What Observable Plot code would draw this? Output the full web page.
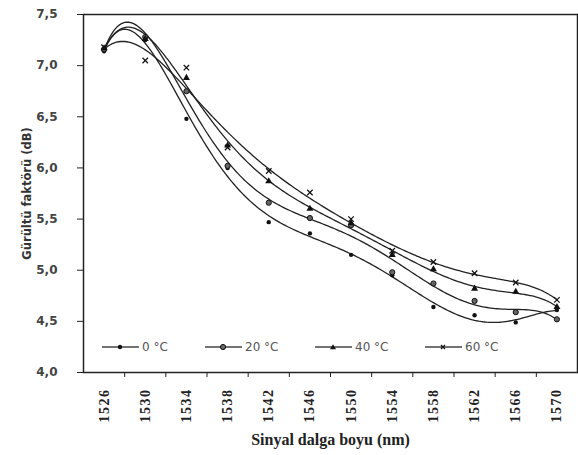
<!DOCTYPE html>
<html><head><meta charset="utf-8">
<script src="https://cdn.jsdelivr.net/npm/d3@7"></script>
<script src="https://cdn.jsdelivr.net/npm/@observablehq/plot@0.6"></script>
<style>
body{margin:0;background:#fff;}
#wrap{position:relative;width:578px;height:455px;}
g[aria-label="y-axis tick label"] text{font-family:"DejaVu Sans",sans-serif;font-size:12px;font-weight:bold;fill:#444;}
g[aria-label="x-axis tick label"] text{font-family:"Liberation Serif",serif;font-size:14px;font-weight:bold;fill:#222;letter-spacing:1.5px;}
#legend{position:absolute;left:0;top:340px;font-family:"DejaVu Sans",sans-serif;font-size:12px;color:#555;}
.li{position:absolute;display:flex;align-items:center;white-space:nowrap;}
</style></head><body>
<div id="wrap"><div id="legend"></div></div>
<script>
const wavelengths = [1526,1530,1534,1538,1542,1546,1550,1554,1558,1562,1566,1570];
const seriesNames = ["0 °C","20 °C","40 °C","60 °C"];
const v0  = [7.14,7.25,6.48,6.00,5.47,5.36,5.15,4.95,4.64,4.56,4.49,4.61];
const v20 = [7.16,7.28,6.75,6.02,5.66,5.51,5.44,4.98,4.87,4.70,4.59,4.52];
const v40 = [7.17,7.26,6.88,6.22,5.87,5.60,5.46,5.15,5.01,4.82,4.79,4.64];
const v60 = [7.18,7.05,6.98,6.20,5.97,5.76,5.50,5.19,5.08,4.97,4.88,4.71];
const yTicks = [4.0,4.5,5.0,5.5,6.0,6.5,7.0,7.5];
const symbols = ["circle","circle","triangle","times"];

const allVals = [v0,v20,v40,v60];
const idx = wavelengths.map((w,i)=>i+1);
const points = [];
allVals.forEach((vals,s)=>vals.forEach((v,i)=>points.push({x:i+1,y:v,series:seriesNames[s]})));

// 6th-order polynomial trendline (least squares) as in the original spreadsheet
function polyfit(xs, ys, deg){
  const c = 6.5, h = 5.5, n = deg+1;
  const A = Array.from({length:n},()=>new Array(n).fill(0));
  const b = new Array(n).fill(0);
  xs.forEach((x,k)=>{
    const t=(x-c)/h; const p=[]; for(let j=0;j<n;j++) p.push(Math.pow(t,j));
    for(let i=0;i<n;i++){ b[i]+=p[i]*ys[k]; for(let j=0;j<n;j++) A[i][j]+=p[i]*p[j]; }
  });
  for(let i=0;i<n;i++){
    let m=i; for(let r=i+1;r<n;r++) if(Math.abs(A[r][i])>Math.abs(A[m][i])) m=r;
    [A[i],A[m]]=[A[m],A[i]]; [b[i],b[m]]=[b[m],b[i]];
    for(let r=i+1;r<n;r++){ const f=A[r][i]/A[i][i]; for(let j=i;j<n;j++) A[r][j]-=f*A[i][j]; b[r]-=f*b[i]; }
  }
  const co=new Array(n).fill(0);
  for(let i=n-1;i>=0;i--){ let s=b[i]; for(let j=i+1;j<n;j++) s-=A[i][j]*co[j]; co[i]=s/A[i][i]; }
  return x=>{const t=(x-c)/h; let s=0; for(let j=n-1;j>=0;j--) s=s*t+co[j]; return s;};
}
const curves = [];
allVals.forEach((vals,s)=>{
  const f = polyfit(idx, vals, 6);
  d3.range(1, 12.0001, 0.05).forEach(x=>curves.push({x, y:f(x), series:seriesNames[s]}));
});

const boundaries = d3.range(1.5, 12, 1);
const fmt = d => d.toFixed(1).replace(".", ",");

const chart = Plot.plot({
  width: 578, height: 455,
  marginLeft: 83, marginRight: 1, marginTop: 14, marginBottom: 83,
  x: {domain: [0.5, 12.5]},
  y: {domain: [4, 7.5]},
  style: {background: "white", overflow: "visible"},
  marks: [
    Plot.axisY({ticks: yTicks, tickSize: 6, tickPadding: 20, tickFormat: fmt, label: null, stroke: "#222"}),
    Plot.axisX({ticks: idx, tickSize: 0, tickPadding: 16, tickRotate: -90, tickFormat: i => String(wavelengths[i-1]), label: null}),
    Plot.axisX({ticks: boundaries, tickSize: 5, tickFormat: () => "", label: null, stroke: "#222"}),
    Plot.line(curves, {x: "x", y: "y", z: "series", stroke: "#222", strokeWidth: 1.3, curve: "linear"}),
    Plot.dot(points.filter(d=>d.series===seriesNames[0]), {x:"x", y:"y", symbol:"circle", r:2.2, fill:"#111"}),
    Plot.dot(points.filter(d=>d.series===seriesNames[1]), {x:"x", y:"y", symbol:"circle", r:2.6, fill:"#666", stroke:"#111", strokeWidth:1}),
    Plot.dot(points.filter(d=>d.series===seriesNames[2]), {x:"x", y:"y", symbol:"triangle", r:2.6, fill:"#111"}),
    Plot.dot(points.filter(d=>d.series===seriesNames[3]), {x:"x", y:"y", symbol:"times", r:2.6, stroke:"#111", strokeWidth:1.2, fill:"none"}),
    Plot.frame({stroke: "#222", strokeWidth: 1.5}),
    Plot.text(["Sinyal dalga boyu (nm)"], {frameAnchor: "bottom", textAnchor: "middle", dy: 72, fontFamily: "Liberation Serif", fontSize: 16, fontWeight: "bold", fill: "#222", letterSpacing: "1px"}),
    Plot.text(["Gürültü faktörü (dB)"], {frameAnchor: "left", textAnchor: "middle", dx: -56, rotate: -90, fontFamily: "DejaVu Sans", fontSize: 11.5, fontWeight: "bold", fill: "#333"})
  ]
});
document.getElementById("wrap").prepend(chart);

// legend
const legendX = [102, 205, 315, 425];
const lg = document.getElementById("legend");
seriesNames.forEach((name,i)=>{
  let m = "";
  if (i===0) m = '<circle cx="18" cy="7" r="2.2" fill="#111"/>';
  if (i===1) m = '<circle cx="18" cy="7" r="2.6" fill="#666" stroke="#111"/>';
  if (i===2) m = '<path d="M18,4.2L21,9.2L15,9.2Z" fill="#111"/>';
  if (i===3) m = '<path d="M16,5L20,9M20,5L16,9" stroke="#111" stroke-width="1.2"/>';
  const div = document.createElement("div");
  div.className = "li";
  div.style.left = legendX[i] + "px";
  div.innerHTML = '<svg width="37" height="14"><line x1="0" y1="7" x2="37" y2="7" stroke="#444" stroke-width="1.5"/>' + m + '</svg><span style="margin-left:3px">' + name + '</span>';
  lg.appendChild(div);
});
</script>
</body></html>
